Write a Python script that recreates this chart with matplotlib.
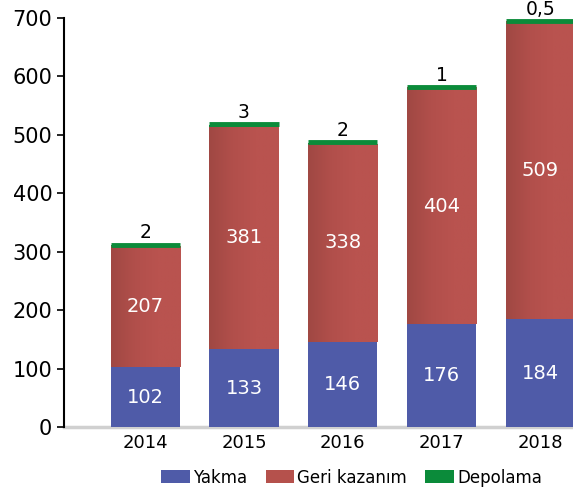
import numpy as np
import matplotlib.pyplot as plt
from matplotlib.colors import LinearSegmentedColormap

years = ["2014", "2015", "2016", "2017", "2018"]
yakma = [102, 133, 146, 176, 184]
geri_kazanim = [207, 381, 338, 404, 509]
depolama = [2, 3, 2, 1, 0.5]
depolama_labels = ["2", "3", "2", "1", "0,5"]

c_blue = "#4F5BA8"
c_red = "#B5514C"
c_green = "#0B8B3A"

plt.rcParams["font.family"] = ["DejaVu Sans"]

fig = plt.figure(figsize=(5.73, 4.94), dpi=100)
ax = fig.add_axes([0.112, 0.1356, 0.888, 0.828])

x = np.arange(len(years))
w = 0.7
bottom2 = np.array(yakma)
bottom3 = bottom2 + np.array(geri_kazanim)
top3 = bottom3 + np.array(depolama)

b1 = ax.bar(x, yakma, w, color=c_blue, label="Yakma", zorder=2)
b2 = ax.bar(x, geri_kazanim, w, bottom=bottom2, color=c_red, label="Geri kazanım", zorder=2)
b3 = ax.bar(x, depolama, w, bottom=bottom3, color=c_green, label="Depolama", zorder=3)
# thin green cap so the small values stay visible
ax.hlines(top3 + 1, x - w / 2, x + w / 2, color=c_green, lw=3.5, zorder=3,
          capstyle="butt")

# gradient on red bars (darker on the left)
cmap = LinearSegmentedColormap.from_list("g", ["#A04843", "#B14F4B", "#B9534F", "#B9534F"])
grad = np.linspace(0, 1, 100).reshape(1, -1)
for rect in b2:
    x0, y0 = rect.get_x(), rect.get_y()
    ax.imshow(grad, cmap=cmap, aspect="auto", zorder=2.5,
              extent=[x0, x0 + rect.get_width(), y0, y0 + rect.get_height()])

for i in range(len(years)):
    ax.text(x[i], yakma[i] / 2, str(yakma[i]), ha="center", va="center",
            color="white", fontsize=14, zorder=4)
    ax.text(x[i], bottom2[i] + geri_kazanim[i] / 2, str(geri_kazanim[i]),
            ha="center", va="center", color="white", fontsize=14, zorder=4)
    ax.text(x[i], top3[i] + 5, depolama_labels[i],
            ha="center", va="bottom", color="black", fontsize=13.5, zorder=4,
            clip_on=False)

ax.set_xlim(-0.82, 4.33)
ax.set_ylim(0, 700)
ax.set_yticks(range(0, 701, 100))
ax.set_xticks(x)
ax.set_xticklabels(years, fontsize=13)
ax.tick_params(axis="y", labelsize=15, length=5, width=1.2, direction="out")
ax.tick_params(axis="x", length=0, pad=5)
for s in ["top", "right", "bottom"]:
    ax.spines[s].set_visible(False)
ax.spines["left"].set_linewidth(1.5)
ax.axhline(0, color="#d0d0d0", lw=2.5, zorder=1, clip_on=False)

ax.legend(handles=[b1, b2, b3], loc="upper center", bbox_to_anchor=(0.565, -0.065),
          ncol=3, frameon=False, fontsize=12, handlelength=1.7, handleheight=0.8,
          columnspacing=1.1, handletextpad=0.2)

fig.savefig("out.png", dpi=100)
